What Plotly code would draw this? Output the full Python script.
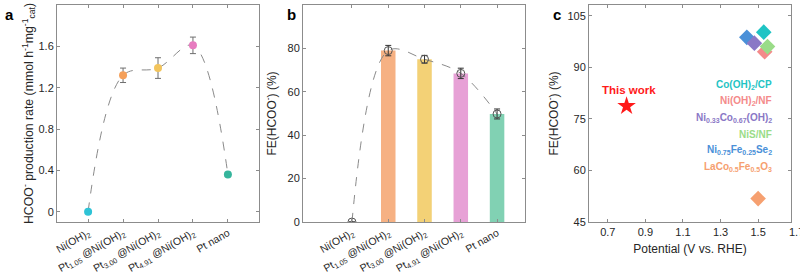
import plotly.graph_objects as go

# ---------------- data ----------------
categories = ["Ni(OH)<sub>2</sub>", "Pt<sub>1.05</sub> @Ni(OH)<sub>2</sub>",
              "Pt<sub>3.00</sub> @Ni(OH)<sub>2</sub>", "Pt<sub>4.91</sub> @Ni(OH)<sub>2</sub>",
              "Pt nano"]
cat_pos = [1, 2, 3, 4, 5]
rate = [0.0, 1.32, 1.39, 1.61, 0.36]
rate_err = [0.0, 0.07, 0.10, 0.08, 0.02]
rate_colors = ["#2ec3d6", "#f5a05a", "#f2c45c", "#e77cc0", "#35b59c"]

fe = [0.0, 79.0, 75.0, 68.5, 49.8]
fe_err = [0.0, 2.4, 1.8, 2.4, 2.3]
bar_colors = ["#2ec3d6", "#f5a46e", "#f1c95f", "#e391d0", "#6ccaa6"]

ref_labels = ["Co(OH)<sub>2</sub>/CP", "Ni(OH)<sub>2</sub>/NF",
              "Ni<sub>0.33</sub>Co<sub>0.67</sub>(OH)<sub>2</sub>", "NiS/NF",
              "Ni<sub>0.75</sub>Fe<sub>0.25</sub>Se<sub>2</sub>",
              "LaCo<sub>0.5</sub>Fe<sub>0.5</sub>O<sub>3</sub>"]
ref_potential = [1.53, 1.535, 1.48, 1.55, 1.44, 1.50]
ref_fe = [100.2, 94.5, 97.0, 96.0, 98.7, 51.8]
ref_colors = ["#1fc4c4", "#f48a8a", "#8a78c6", "#9adc88", "#4a90d8", "#f6a070"]
draw_order = [4, 2, 0, 1, 3, 5]

this_work_potential = [0.8]
this_work_fe = [78.7]

# ---------------- layout helpers ----------------
W, H = 800, 273
ML, MR, MT, MB = 0, 0, 0, 0
def xdom(x0, x1):
    return [(x0 - ML) / (W - ML - MR), (x1 - ML) / (W - ML - MR)]
def ydom(ytop, ybot):
    h = H - MT - MB
    return [1 - (ybot - MT) / h, 1 - (ytop - MT) / h]

FONT = "Liberation Sans, Arial, sans-serif"
TXT = "#262626"
AXC = "#8c8c8c"

fig = go.Figure()

# ---- panel a ----
fig.add_trace(go.Scatter(x=cat_pos, y=rate, mode="lines", line=dict(color="#8a8a8a", width=1, dash="dash", shape="spline", smoothing=1.0),
                         xaxis="x", yaxis="y", showlegend=False, hoverinfo="skip"))
fig.add_trace(go.Scatter(x=cat_pos, y=rate, mode="markers",
                         marker=dict(color=rate_colors, size=8, line=dict(width=0)),
                         error_y=dict(type="data", array=rate_err, color="#6e6e6e", thickness=1, width=3),
                         xaxis="x", yaxis="y", showlegend=False))

# ---- panel b ----
fig.add_trace(go.Bar(x=cat_pos, y=fe, width=0.4, marker=dict(color=bar_colors, line=dict(width=0)),
                     opacity=0.85, xaxis="x2", yaxis="y2", showlegend=False))
fig.add_trace(go.Scatter(x=cat_pos, y=fe, mode="lines", line=dict(color="#8a8a8a", width=1, dash="dash", shape="spline", smoothing=1.0),
                         xaxis="x2", yaxis="y2", showlegend=False, hoverinfo="skip"))
fig.add_trace(go.Scatter(x=cat_pos, y=fe, mode="markers",
                         marker=dict(symbol="circle-open", color="#555555", size=8, line=dict(width=1)),
                         error_y=dict(type="data", array=fe_err, color="#333333", thickness=1, width=3),
                         xaxis="x2", yaxis="y2", showlegend=False))

# ---- panel c ----
for i in draw_order:
    fig.add_trace(go.Scatter(x=[ref_potential[i]], y=[ref_fe[i]], mode="markers",
                             marker=dict(symbol="diamond", color=ref_colors[i], size=12, line=dict(width=0)),
                             xaxis="x3", yaxis="y3", showlegend=False))
fig.add_trace(go.Scatter(x=this_work_potential, y=this_work_fe, mode="markers",
                         marker=dict(symbol="star", color="#ff1a1a", size=14, line=dict(width=0)),
                         xaxis="x3", yaxis="y3", showlegend=False))

annotations = []
annotations.append(dict(x=this_work_potential[0] + 0.013, y=this_work_fe[0] + 4.8, xref="x3", yref="y3",
                        text="<b>This work</b>", showarrow=False,
                        font=dict(family=FONT, size=11.5, color="#ff1a1a")))
for k, (lab, col) in enumerate(zip(ref_labels, ref_colors)):
    annotations.append(dict(x=1.582, y=84.8 - 4.75 * k, xref="x3", yref="y3", text="<b>" + lab + "</b>",
                            showarrow=False, xanchor="right", font=dict(family=FONT, size=10, color=col)))

for lab, px in [("a", 3), ("b", 285), ("c", 551)]:
    annotations.append(dict(x=px / W, y=1 - 14 / H, xref="paper", yref="paper", text="<b>" + lab + "</b>",
                            showarrow=False, xanchor="left", yanchor="middle",
                            font=dict(family=FONT, size=15, color="black")))

# last x tick label of panel c sits just past the frame edge in the reference
annotations.append(dict(x=796 / W, y=1 - 222 / H, xref="paper", yref="paper", text="1.7",
                        showarrow=False, xanchor="center", yanchor="top", yshift=-2,
                        font=dict(family=FONT, size=11, color=TXT)))

common = dict(showline=True, mirror="ticks", linecolor=AXC, linewidth=1, ticks="inside", ticklen=3,
              tickcolor=AXC, showgrid=False, zeroline=False, automargin=False,
              tickfont=dict(family=FONT, size=11, color=TXT))

ytitle_font = dict(family=FONT, size=12, color=TXT)

fig.update_layout(
    template="none",
    width=W, height=H, margin=dict(l=ML, r=MR, t=MT, b=MB),
    paper_bgcolor="white", plot_bgcolor="white",
    annotations=annotations,
    xaxis=dict(domain=xdom(57, 259), range=[0.11, 5.89], tickvals=cat_pos, ticktext=categories,
               tickangle=-30, anchor="y", **{**common, "tickfont": dict(family=FONT, size=10.5, color=TXT)}),
    yaxis=dict(domain=ydom(5, 222), range=[-0.1, 2.0005], tickvals=[0, 0.4, 0.8, 1.2, 1.6, 2],
               ticktext=["0", "0.4", "0.8", "1.2", "1.6", "2"], anchor="x",
               title=dict(text="HCOO<sup>-</sup> production rate (mmol h<sup>-1</sup>mg<sup>-1</sup><sub>cat</sub>)",
                          font=dict(family=FONT, size=12.3, color=TXT), standoff=2), **common),
    xaxis2=dict(domain=xdom(303, 525), range=[-0.35, 5.77], tickvals=cat_pos, ticktext=categories,
                tickangle=-30, anchor="y2", **{**common, "tickfont": dict(family=FONT, size=10.5, color=TXT)}),
    yaxis2=dict(domain=ydom(5, 222), range=[0, 100.02], tickvals=[0, 20, 40, 60, 80, 100], anchor="x2",
                title=dict(text="FE(HCOO<sup>-</sup>) (%)", font=ytitle_font, standoff=8), **common),
    xaxis3=dict(domain=xdom(589, 791), range=[0.6, 1.675], tickvals=[0.7, 0.9, 1.1, 1.3, 1.5],
                anchor="y3", title=dict(text="Potential (V vs. RHE)", font=ytitle_font, standoff=7), **common),
    yaxis3=dict(domain=ydom(5, 222), range=[45, 108.1], tickvals=[45, 60, 75, 90, 105], anchor="x3",
                title=dict(text="FE(HCOO<sup>-</sup>) (%)", font=ytitle_font, standoff=6), **common),
)

fig.write_html("out.html", config={"displayModeBar": False},
               post_script="document.body.style.margin='0';document.body.style.overflow='hidden';")
